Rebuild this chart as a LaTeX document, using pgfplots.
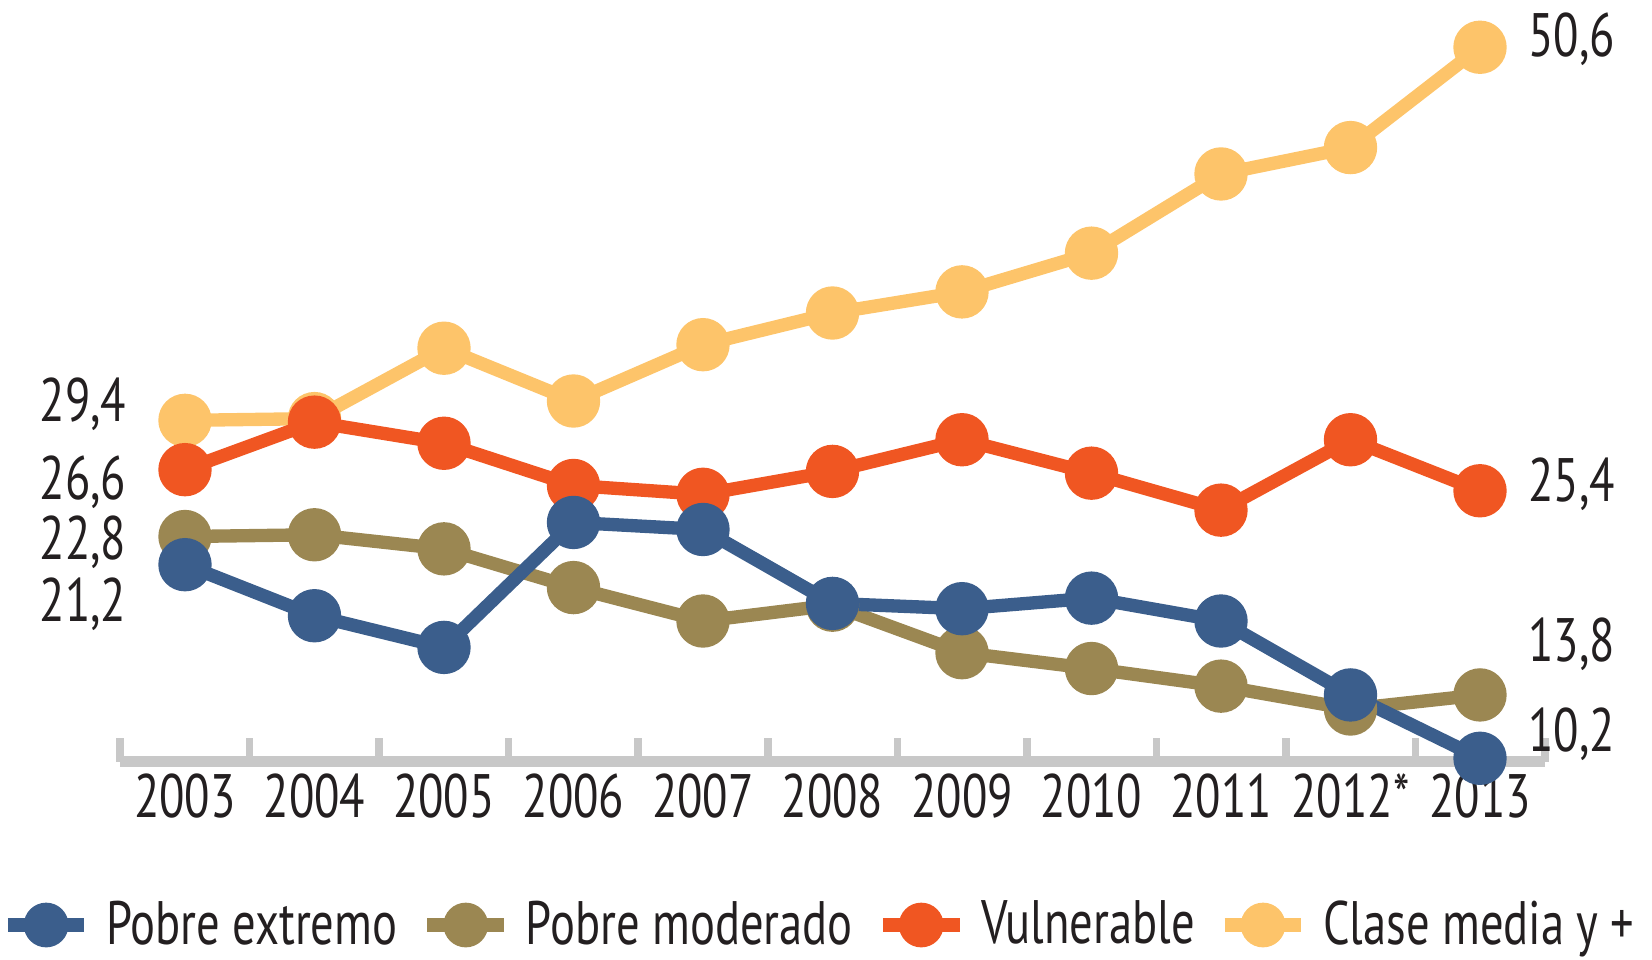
\documentclass[border=0pt]{standalone}
\usepackage{pgfplots}
\pgfplotsset{compat=1.18}
\usepackage{pgfplotstable}
\usepackage{fontspec}
\setmainfont{PT Sans}[FakeStretch=0.76]

\definecolor{cExt}{HTML}{3B5E8C}
\definecolor{cMod}{HTML}{9B8752}
\definecolor{cVul}{HTML}{F05622}
\definecolor{cCla}{HTML}{FDC46A}
\definecolor{cAx}{HTML}{C8C8C8}
\definecolor{cTxt}{HTML}{231F20}

\pgfplotstableread{
x ext mod vul cla
0 21.2 22.8 26.6 29.4
1 18.3 22.9 29.3 29.5
2 16.5 22.1 28.1 33.5
3 23.6 19.9 25.7 30.5
4 23.2 18.0 25.2 33.7
5 19.0 18.9 26.5 35.5
6 18.7 16.2 28.3 36.7
7 19.3 15.3 26.4 38.9
8 18.0 14.3 24.3 43.4
9 13.8 13.0 28.3 44.9
10 10.2 13.8 25.4 50.6
}\data

\newcommand{\bigfont}{\fontsize{18.4}{22}\selectfont}

\begin{document}
\begin{tikzpicture}
\useasboundingbox (-36.075pt,-59.16pt) rectangle (459.525pt,228.54pt);
\begin{axis}[
  at={(0pt,0pt)}, anchor=south west,
  x=38.85pt, y=5.28pt,
  xmin=-0.5, xmax=10.5, ymin=10, ymax=53.29,
  axis x line*=bottom, axis y line=none,
  axis line style={draw=cAx, line width=3.3pt},
  xtick={-0.5,0.5,...,10.5},
  xticklabels={},
  tick align=inside,
  major tick length=7pt,
  tick style={draw=cAx, line width=2.25pt},
  extra x ticks={0,1,...,10},
  extra x tick labels={2003,2004,2005,2006,2007,2008,2009,2010,2011,2012*,2013},
  extra x tick style={major tick length=0pt, tick style={draw=none}},
  tick label style={font=\bigfont, text=cTxt},
  /pgf/number format/assume math mode=true,
  clip=false,
  legend columns=4,
  legend cell align=left,
  legend image code/.code={
    \draw[line width=4pt] (0pt,0pt) -- (23pt,0pt);
    \fill (11.5pt,0pt) circle (4.7pt);
  },
  legend style={draw=none, fill=none, at={(-0.0836,-0.2142)}, anchor=west,
    inner sep=0pt, outer sep=0pt, font=\bigfont, text=cTxt,
    nodes={inner sep=1pt},
    /tikz/every odd column/.append style={column sep=3.5pt},
    /tikz/every even column/.append style={column sep=6pt}},
  every axis plot/.append style={line width=4pt, mark=*, mark size=6pt},
]
\addlegendimage{cExt}\addlegendentry{Pobre extremo}
\addlegendimage{cMod}\addlegendentry{Pobre moderado}
\addlegendimage{cVul}\addlegendentry{Vulnerable}
\addlegendimage{cCla}\addlegendentry{Clase media y +}

\addplot[cCla, forget plot, mark options={draw=none, fill=cCla}] table[x=x,y=cla]{\data};
\addplot[cVul, forget plot, mark options={draw=none, fill=cVul}] table[x=x,y=vul]{\data};
\addplot[cMod, forget plot, mark options={draw=none, fill=cMod}] table[x=x,y=mod]{\data};
\addplot[cExt, forget plot, mark options={draw=none, fill=cExt}] table[x=x,y=ext]{\data};

\tikzset{lbl/.style={font=\bigfont, text=cTxt, inner sep=0pt}}
\node[lbl, anchor=base east] at (axis cs:-0.448,29.33) {29,4};
\node[lbl, anchor=base east] at (axis cs:-0.448,24.88) {26,6};
\node[lbl, anchor=base east] at (axis cs:-0.448,21.47) {22,8};
\node[lbl, anchor=base east] at (axis cs:-0.448,17.96) {21,2};
\node[lbl, anchor=base west] at (axis cs:10.367,50.07) {50,6};
\node[lbl, anchor=base west] at (axis cs:10.367,24.78) {25,4};
\node[lbl, anchor=base west] at (axis cs:10.367,15.69) {13,8};
\node[lbl, anchor=base west] at (axis cs:10.367,10.58) {10,2};
\end{axis}
\end{tikzpicture}
\end{document}
